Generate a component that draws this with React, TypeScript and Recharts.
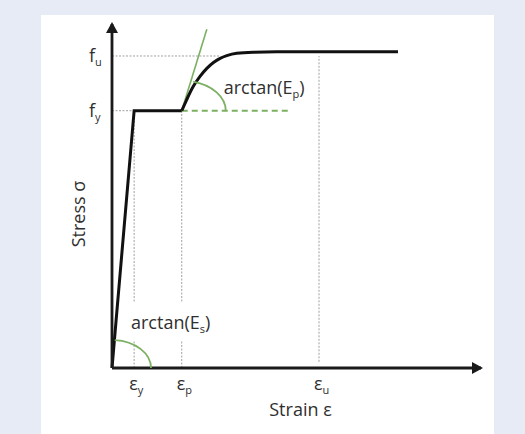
import React from "react";
import { LineChart, Line, XAxis, YAxis, ReferenceLine, ReferenceDot, Label } from "recharts";

// strain / stress in arbitrary units (0..100 on both axes)
const elasticStrain = [0, 6.0, 18.9];
const elasticStress = [0, 74.8, 74.8];
const hardeningStrain = [18.9, 20.2, 22.0, 23.8, 25.7, 27.5, 29.3, 31.1, 33.8, 38.3, 44.6, 77.5];
const hardeningStress = [74.8, 77.9, 81.8, 84.7, 87.1, 88.8, 90.0, 90.8, 91.5, 91.8, 91.9, 91.9];
const tangentStrain = [18.9, 25.7];
const tangentStress = [74.8, 98.5];
const yieldRefStrain = [18.9, 47.7];
const yieldRefStress = [74.8, 74.8];

const strainTicks = [6.0, 18.9, 56.1];
const strainTickSubs = ["y", "p", "u"];
const stressTicks = [74.8, 90.7];
const stressTickSubs = ["y", "u"];
const fuGuideEnd = 29.3;
const euGuideBottom = 1.8;

const toPoints = (xs: number[], ys: number[]) => xs.map((x, i) => ({ x, y: ys[i] }));

const INK = "#2f2f2f";
const GREEN = "#7cb062";
const GUIDE = "#a0a0a0";
const FONT = "'Open Sans', sans-serif";

const StrainTick = (props: any) => {
  const { x, y, payload } = props;
  const i = strainTicks.indexOf(payload.value);
  return (
    <text x={x - 5} y={y + 22} fill={INK} fontSize={18} fontFamily={FONT}>
      ε<tspan dy={4} fontSize={11}>{strainTickSubs[i]}</tspan>
    </text>
  );
};

const StressTick = (props: any) => {
  const { x, y, payload } = props;
  const i = stressTicks.indexOf(payload.value);
  return (
    <text x={x - 23} y={y + 6} fill={INK} fontSize={18} fontFamily={FONT}>
      f<tspan dy={4} fontSize={11}>{stressTickSubs[i]}</tspan>
    </text>
  );
};

const Arrow = (dir: "up" | "right") => (props: any) => {
  const { cx, cy } = props;
  const d =
    dir === "up"
      ? `M${cx},${cy - 2} L${cx - 6},${cy + 9} L${cx + 6},${cy + 9} Z`
      : `M${cx + 2},${cy} L${cx - 9},${cy - 6} L${cx - 9},${cy + 6} Z`;
  return <path d={d} fill="#1a1a1a" />;
};

interface AngleOpts {
  rx: number;
  ry: number;
  end: number;
  sub: string;
  dx: number;
  dy: number;
  box?: boolean;
}

const AngleMark = (o: AngleOpts) => (props: any) => {
  const { cx, cy } = props;
  const t = (o.end * Math.PI) / 180;
  const ex = cx + o.rx * Math.cos(t);
  const ey = cy - o.ry * Math.sin(t);
  return (
    <g>
      {o.box && <rect x={cx + o.dx - 4} y={cy + o.dy - 27} width={101} height={38} fill="#fff" />}
      <path d={`M${cx + o.rx},${cy} A${o.rx},${o.ry} 0 0 0 ${ex},${ey}`} fill="none" stroke={GREEN} strokeWidth={1.8} />
      <text x={cx + o.dx} y={cy + o.dy} fill={INK} fontSize={18} fontFamily={FONT}>
        arctan(E<tspan dy={4} fontSize={11}>{o.sub}</tspan>
        <tspan dy={-4}>)</tspan>
      </text>
    </g>
  );
};

export default function App() {
  const fy = stressTicks[0];
  const fu = stressTicks[1];
  return (
    <div style={{ position: "fixed", left: 0, top: 0, width: 525, height: 434, background: "#e7ebf6", overflow: "hidden" }}>
      <div style={{ position: "absolute", left: 41, top: 15, width: 453, height: 419, background: "#fff" }} />
      <div style={{ position: "absolute", left: 0, top: 0 }}>
        <LineChart width={525} height={434} margin={{ top: 24, right: 44, left: 52, bottom: 16 }}>
          <XAxis
            type="number"
            dataKey="x"
            domain={[0, 100]}
            ticks={strainTicks}
            interval={0}
            tickSize={0}
            tickMargin={0}
            tickLine={false}
            height={50}
            tick={<StrainTick />}
            axisLine={{ stroke: "#1a1a1a", strokeWidth: 2.8 }}
          >
            <Label
              content={(p: any) => (
                <text x={p.viewBox.x + p.viewBox.width / 2 + 4} y={p.viewBox.y + 48} textAnchor="middle" fill={INK} fontSize={18} fontFamily={FONT}>
                  Strain ε
                </text>
              )}
            />
          </XAxis>
          <YAxis
            type="number"
            dataKey="y"
            domain={[0, 100]}
            ticks={stressTicks}
            interval={0}
            tickSize={0}
            tickMargin={0}
            tickLine={false}
            width={60}
            tick={<StressTick />}
            axisLine={{ stroke: "#1a1a1a", strokeWidth: 2.8 }}
          >
            <Label
              content={(p: any) => {
                const x = p.viewBox.x + 33;
                const y = p.viewBox.y + p.viewBox.height / 2 + 18;
                return (
                  <text x={x} y={y} transform={`rotate(-90 ${x} ${y})`} textAnchor="middle" fill={INK} fontSize={18} fontFamily={FONT}>
                    Stress σ
                  </text>
                );
              }}
            />
          </YAxis>

          <ReferenceLine segment={[{ x: 0, y: fu }, { x: fuGuideEnd, y: fu }]} stroke={GUIDE} strokeDasharray="2 1.5" />
          <ReferenceLine segment={[{ x: 0, y: fy }, { x: strainTicks[0], y: fy }]} stroke={GUIDE} strokeDasharray="2 1.5" />
          <ReferenceLine segment={[{ x: strainTicks[0], y: 0 }, { x: strainTicks[0], y: fy }]} stroke={GUIDE} strokeDasharray="2 1.5" />
          <ReferenceLine segment={[{ x: strainTicks[1], y: 0 }, { x: strainTicks[1], y: fy }]} stroke={GUIDE} strokeDasharray="2 1.5" />
          <ReferenceLine segment={[{ x: strainTicks[2], y: euGuideBottom }, { x: strainTicks[2], y: fu }]} stroke={GUIDE} strokeDasharray="2 1.5" />

          <Line data={toPoints(yieldRefStrain, yieldRefStress)} dataKey="y" stroke={GREEN} strokeWidth={2} strokeDasharray="6 4" dot={false} activeDot={false} isAnimationActive={false} />
          <Line data={toPoints(tangentStrain, tangentStress)} dataKey="y" stroke={GREEN} strokeWidth={1.6} dot={false} activeDot={false} isAnimationActive={false} />
          <Line data={toPoints(elasticStrain, elasticStress)} dataKey="y" stroke="#111" strokeWidth={3} type="linear" dot={false} activeDot={false} isAnimationActive={false} />
          <Line data={toPoints(hardeningStrain, hardeningStress)} dataKey="y" stroke="#111" strokeWidth={3} type="monotone" dot={false} activeDot={false} isAnimationActive={false} />

          <ReferenceDot x={0} y={0} r={0} shape={AngleMark({ rx: 39, ry: 28, end: 86, sub: "s", dx: 19, dy: -39, box: true })} />
          <ReferenceDot x={strainTicks[1]} y={fy} r={0} shape={AngleMark({ rx: 44, ry: 30, end: 75, sub: "p", dx: 42, dy: -17 })} />
          <ReferenceDot x={100} y={0} r={0} shape={Arrow("right")} />
          <ReferenceDot x={0} y={100} r={0} shape={Arrow("up")} />
        </LineChart>
      </div>
    </div>
  );
}
